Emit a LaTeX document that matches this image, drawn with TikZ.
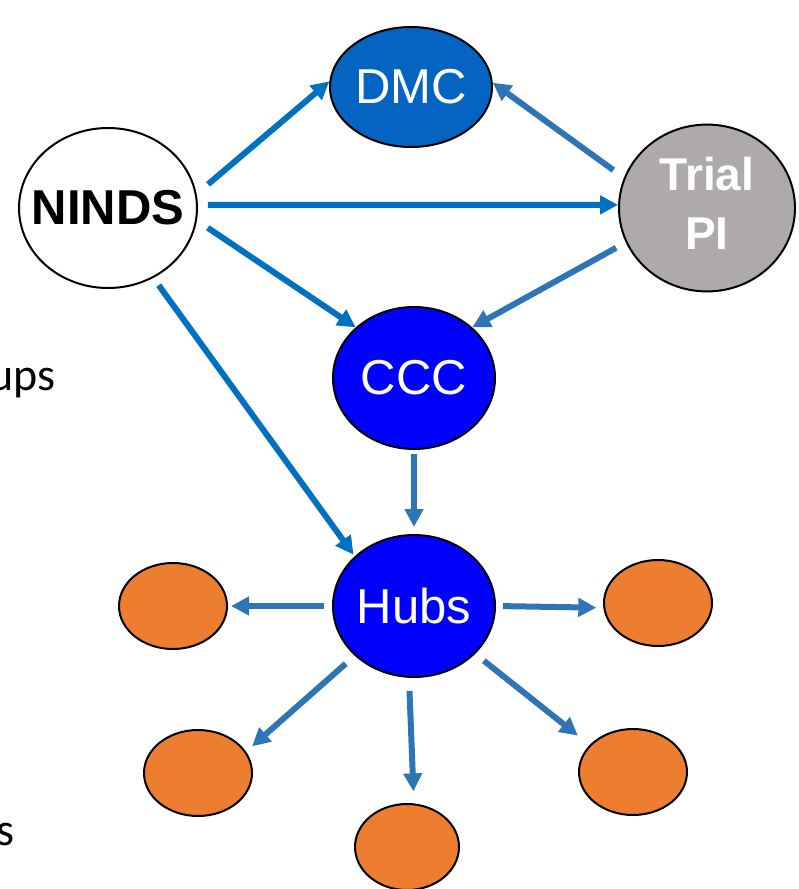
\documentclass[tikz,border=0pt]{standalone}
\usepackage{fontspec}
\setmainfont{Liberation Sans}
\newfontfamily\slidefont{Carlito}
\usepackage{xcolor}
\usetikzlibrary{shapes.geometric, arrows.meta}
\definecolor{ArrowA}{HTML}{0070C0}
\definecolor{ArrowB}{HTML}{2E75B6}
\definecolor{DmcBlue}{HTML}{0563C1}
\definecolor{TrialGrey}{HTML}{AEAAAA}
\definecolor{SiteOrange}{HTML}{ED7D31}

\begin{document}
\begin{tikzpicture}[x=1pt, y=-1pt,
  bubble/.style={ellipse, draw=black, line width=2pt, inner sep=0pt, text=white, font=\fontsize{49}{59}\selectfont},
  site/.style={ellipse, draw=black, line width=2pt, fill=SiteOrange, minimum width=108pt, minimum height=86pt},
  slide/.style={anchor=base east, inner sep=0pt, font=\slidefont\fontsize{46}{55}\selectfont},
  link/.style={line width=6pt, -{Triangle[length=18pt,width=18pt]}}]
\useasboundingbox (0,0) rectangle (798,889);
\node[bubble, fill=white, text=black, font=\fontsize{49}{59}\selectfont\bfseries, minimum width=178pt, minimum height=160pt] (ninds) at (108,208) {\makebox[0pt]{NINDS}};
\node[bubble, fill=DmcBlue, minimum width=162pt, minimum height=120pt] (dmc) at (411,87) {DMC};
\node[bubble, fill=TrialGrey, font=\fontsize{46}{59}\selectfont\bfseries, minimum width=176pt, minimum height=160pt] (trial) at (707,208) {\makebox[0pt]{\begin{tabular}{@{}c@{}}Trial\\PI\end{tabular}}};
\node[bubble, fill=blue, minimum width=162pt, minimum height=142pt] (ccc) at (414,378) {CCC};
\node[bubble, fill=blue, minimum width=162pt, minimum height=142pt] (hubs) at (414,606) {Hubs};
\node[site] (siteW) at (173,606) {};
\node[site] (siteE) at (658,603) {};
\node[site] (siteSW) at (198,773) {};
\node[site, minimum width=104pt] (siteS) at (407,847) {};
\node[site] (siteSE) at (633,772) {};
\node[slide] (groups) at (56,390) {ups};
\node[slide] (items) at (15,845) {s};
\draw[link, ArrowA, shorten <=15pt] (ninds.9) -- (dmc.176);
\draw[link, ArrowA, shorten <=10pt] (ninds.2) -- (trial.178);
\draw[link, ArrowA, shorten <=13pt] (ninds.-8) -- (ccc.139);
\draw[link, ArrowA, shorten <=9pt, shorten >=2pt] (ninds.-57) -- (hubs.140);
\draw[link, ArrowB, shorten <=13pt] (trial.160) -- (dmc.3);
\draw[link, ArrowB, shorten <=11pt] (trial.203) -- (ccc.41);
\draw[link, ArrowB, shorten <=4pt, shorten >=7pt] (ccc.-90) -- (hubs.90);
\draw[link, ArrowB, shorten <=8pt, shorten >=3pt] (hubs.180) -- (siteW.0);
\draw[link, ArrowB, shorten <=7pt, shorten >=7pt] (hubs.0) -- (siteE.185);
\draw[link, ArrowB, shorten <=12pt, shorten >=8pt] (hubs.220) -- (siteSW.24);
\draw[link, ArrowB, shorten <=13pt, shorten >=12pt] (hubs.266) -- (siteS.81);
\draw[link, ArrowB, shorten <=11pt, shorten >=15pt] (hubs.-38) -- (siteSE.148);
\end{tikzpicture}
\end{document}
